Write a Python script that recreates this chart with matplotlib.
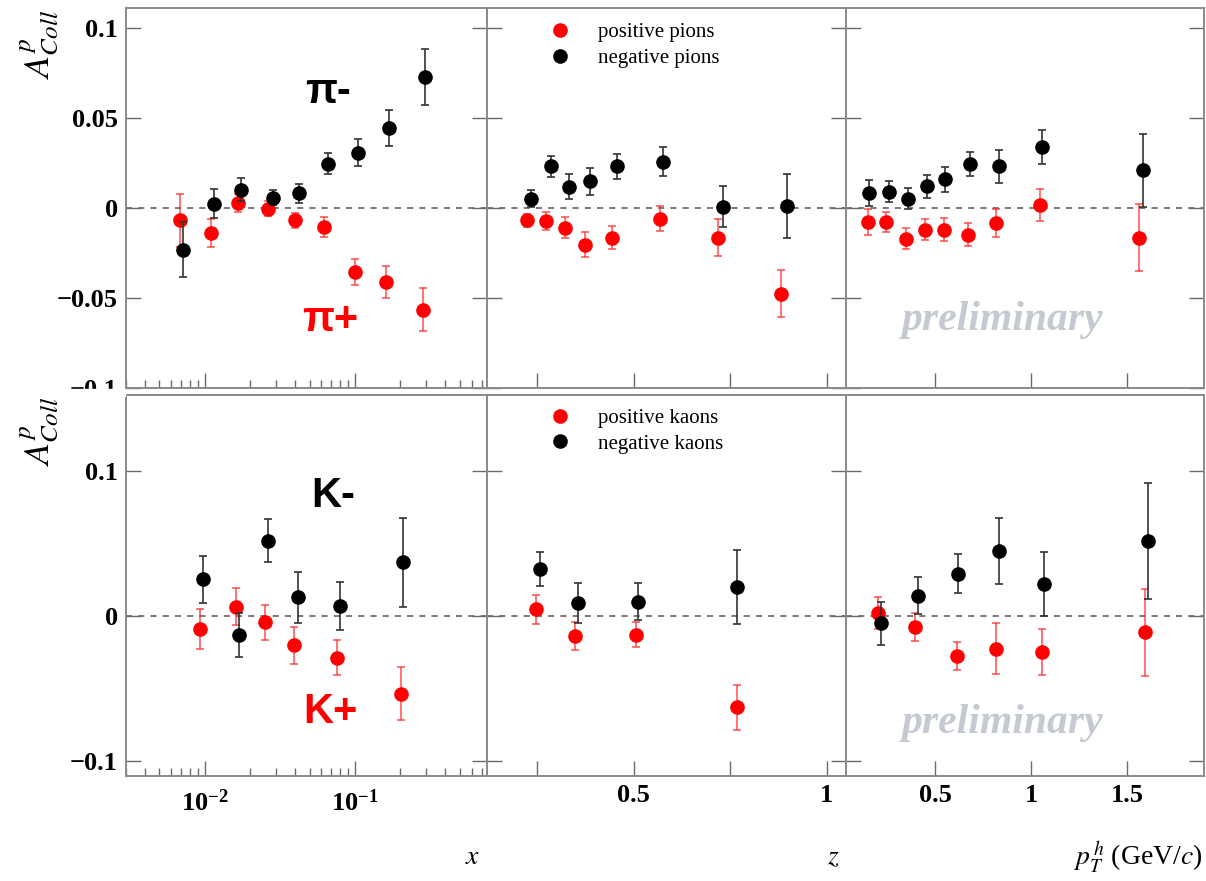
import numpy as np
import matplotlib
matplotlib.use("Agg")
import matplotlib.pyplot as plt
from matplotlib.ticker import FixedLocator, FixedFormatter, LogLocator, NullFormatter, LogFormatterSciNotation
from matplotlib.lines import Line2D
from matplotlib.patches import Rectangle

plt.rcParams["font.family"] = ["Liberation Serif", "DejaVu Serif"]
plt.rcParams["mathtext.fontset"] = "stix"

# ---- pions vs x ----
pip_x = [0.00683, 0.01107, 0.0168, 0.0266, 0.040, 0.0625, 0.100, 0.162, 0.286]
pip_x_val = [-0.0069, -0.0139, 0.0028, -0.0004, -0.0069, -0.0106, -0.0356, -0.0411, -0.0565]
pip_x_err = [0.0148, 0.0079, 0.005, 0.004, 0.004, 0.0055, 0.007, 0.0089, 0.0119]
pim_x = [0.00718, 0.01165, 0.0175, 0.0284, 0.0428, 0.0669, 0.105, 0.170, 0.296]
pim_x_val = [-0.0231, 0.0024, 0.0102, 0.0057, 0.008, 0.0246, 0.0307, 0.0446, 0.0728]
pim_x_err = [0.0155, 0.008, 0.0065, 0.004, 0.0054, 0.0057, 0.0074, 0.010, 0.0157]

# ---- pions vs z ----
pip_z = [0.224, 0.273, 0.322, 0.374, 0.445, 0.567, 0.719, 0.882]
pip_z_val = [-0.0069, -0.0074, -0.0109, -0.0204, -0.0165, -0.0059, -0.0165, -0.0476]
pip_z_err = [0.0037, 0.005, 0.006, 0.0068, 0.0062, 0.0067, 0.0102, 0.0129]
pim_z = [0.234, 0.285, 0.332, 0.386, 0.457, 0.577, 0.732, 0.897]
pim_z_val = [0.0052, 0.0231, 0.0117, 0.0148, 0.0231, 0.0256, 0.0006, 0.0011]
pim_z_err = [0.0047, 0.0058, 0.007, 0.0075, 0.007, 0.008, 0.0114, 0.0178]

# ---- pions vs pT ----
pip_pt = [0.149, 0.244, 0.349, 0.444, 0.545, 0.670, 0.815, 1.044, 1.563]
pip_pt_val = [-0.0078, -0.0078, -0.017, -0.012, -0.012, -0.0148, -0.0083, 0.0015, -0.0165]
pip_pt_err = [0.007, 0.0057, 0.0057, 0.006, 0.0064, 0.0063, 0.0079, 0.009, 0.0185]
pim_pt = [0.154, 0.257, 0.357, 0.457, 0.552, 0.679, 0.830, 1.056, 1.580]
pim_pt_val = [0.0083, 0.0089, 0.0052, 0.012, 0.0159, 0.0243, 0.0231, 0.0339, 0.0209]
pim_pt_err = [0.0074, 0.0058, 0.0056, 0.0063, 0.0068, 0.0068, 0.009, 0.0096, 0.0204]

# ---- kaons vs x ----
kp_x = [0.00936, 0.0161, 0.0253, 0.0394, 0.076, 0.204]
kp_x_val = [-0.009, 0.0065, -0.0044, -0.020, -0.0286, -0.0535]
kp_x_err = [0.0138, 0.0127, 0.0119, 0.0127, 0.0119, 0.0182]
km_x = [0.00975, 0.0170, 0.0266, 0.0416, 0.0803, 0.211]
km_x_val = [0.0253, -0.0131, 0.0518, 0.0129, 0.0069, 0.0371]
km_x_err = [0.016, 0.015, 0.0149, 0.0175, 0.0167, 0.0306]

# ---- kaons vs z ----
kp_z = [0.247, 0.349, 0.505, 0.767]
kp_z_val = [0.0048, -0.0138, -0.0127, -0.0627]
kp_z_err = [0.010, 0.0098, 0.0084, 0.0156]
km_z = [0.258, 0.357, 0.510, 0.767]
km_z_val = [0.0323, 0.0088, 0.0099, 0.0198]
km_z_err = [0.0119, 0.0138, 0.0129, 0.0256]

# ---- kaons vs pT ----
kp_pt = [0.202, 0.396, 0.613, 0.815, 1.055, 1.592]
kp_pt_val = [0.0018, -0.0074, -0.0274, -0.0224, -0.0247, -0.0113]
kp_pt_err = [0.011, 0.0098, 0.0098, 0.0175, 0.016, 0.0298]
km_pt = [0.218, 0.410, 0.621, 0.833, 1.067, 1.609]
km_pt_val = [-0.0051, 0.0141, 0.029, 0.0445, 0.0221, 0.0514]
km_pt_err = [0.015, 0.0127, 0.0135, 0.0228, 0.0222, 0.040]

top_yticks = [-0.1, -0.05, 0, 0.05, 0.1]
top_ylabels = ["\u22120.1", "\u22120.05", "0", "0.05", "0.1"]
bot_yticks = [-0.1, 0, 0.1]
bot_ylabels = ["\u22120.1", "0", "0.1"]
z_ticks = [0.5, 1.0]
z_labels = ["0.5", "1"]
z_minor = [0.25, 0.75]
pt_ticks = [0.5, 1.0, 1.5]
pt_labels = ["0.5", "1", "1.5"]

W, H = 1206, 881
fig = plt.figure(figsize=(W / 100, H / 100), dpi=100)

cols = [(126, 487), (487, 846), (846, 1204)]
rows = [(8, 388), (395, 776)]
axes = []
for r0, r1 in rows:
    line = []
    for c0, c1 in cols:
        ax = fig.add_axes([c0 / W, 1 - r1 / H, (c1 - c0) / W, (r1 - r0) / H])
        line.append(ax)
    axes.append(line)

frame_col = "#8a8a8a"
tick_col = "#6a6a6a"


def style(ax):
    for s in ax.spines.values():
        s.set_color(frame_col)
        s.set_linewidth(1.4)
    ax.tick_params(which="both", direction="in", right=True, top=False,
                   color=tick_col, width=1.0, labelsize=19, pad=6)
    ax.tick_params(which="major", length=11)
    ax.tick_params(which="minor", length=6)
    for t in ax.get_xticklabels() + ax.get_yticklabels():
        t.set_fontweight("bold")


def draw(ax, xp, yp, ep, xn, yn, en):
    ax.axhline(0, color="#555555", lw=1.1, ls=(0, (4, 4)), zorder=1)
    ax.errorbar(xp, yp, yerr=ep, fmt="o", color="red", ms=9.5, mec="red",
                ecolor=(1, 0.15, 0.15, 0.75), elinewidth=1.2, capsize=3,
                capthick=1.2, zorder=3)
    ax.errorbar(xn, yn, yerr=en, fmt="o", color="black", ms=9.5, mec="black",
                ecolor="#333333", elinewidth=1.2, capsize=3, capthick=1.2,
                zorder=4)


panels = [
    [(pip_x, pip_x_val, pip_x_err, pim_x, pim_x_val, pim_x_err),
     (pip_z, pip_z_val, pip_z_err, pim_z, pim_z_val, pim_z_err),
     (pip_pt, pip_pt_val, pip_pt_err, pim_pt, pim_pt_val, pim_pt_err)],
    [(kp_x, kp_x_val, kp_x_err, km_x, km_x_val, km_x_err),
     (kp_z, kp_z_val, kp_z_err, km_z, km_z_val, km_z_err),
     (kp_pt, kp_pt_val, kp_pt_err, km_pt, km_pt_val, km_pt_err)],
]

ylims = [(-0.1, 0.111), (-0.11, 0.152)]
yt = [(top_yticks, top_ylabels), (bot_yticks, bot_ylabels)]

for i in range(2):
    for j in range(3):
        ax = axes[i][j]
        draw(ax, *panels[i][j])
        ax.set_ylim(*ylims[i])
        ax.yaxis.set_major_locator(FixedLocator(yt[i][0]))
        if j == 0:
            ax.yaxis.set_major_formatter(FixedFormatter(yt[i][1]))
        if j == 0:
            ax.set_xscale("log")
            ax.set_xlim(0.003, 0.76)
            ax.xaxis.set_major_locator(LogLocator(base=10, numticks=10))
            ax.xaxis.set_minor_locator(LogLocator(base=10, subs=np.arange(2, 10), numticks=20))
            ax.xaxis.set_minor_formatter(NullFormatter())
            ax.xaxis.set_major_formatter(LogFormatterSciNotation())
        elif j == 1:
            ax.set_xlim(0.12, 1.05)
            ax.xaxis.set_major_locator(FixedLocator(z_ticks))
            ax.xaxis.set_major_formatter(FixedFormatter(z_labels))
            ax.xaxis.set_minor_locator(FixedLocator(z_minor))
        else:
            ax.set_xlim(0.035, 1.9)
            ax.xaxis.set_major_locator(FixedLocator(pt_ticks))
            ax.xaxis.set_major_formatter(FixedFormatter(pt_labels))
        style(ax)
        if j == 0:
            ax.tick_params(axis="x", pad=10)
        if j == 1:
            ax.tick_params(axis="x", which="minor", length=11)
        if j > 0:
            ax.tick_params(labelleft=False)
        if i == 0:
            ax.tick_params(axis="x", labelbottom=False)

# the lower pad hides the lower half of the top row's last label
fig.add_artist(Rectangle((30 / W, 1 - 396 / H), 95 / W, 7.5 / H,
                         transform=fig.transFigure, color="white", zorder=10))

# y titles
for ty in (9, 396):
    fig.text(40 / W, 1 - ty / H, r"$A^{p}_{Coll}$", rotation=90, ha="center",
             va="top", fontsize=26)

# x titles
fig.text(473 / W, 1 - 858 / H, r"$x$", ha="center", va="center", fontsize=20)
fig.text(833 / W, 1 - 858 / H, r"$z$", ha="center", va="center", fontsize=20)
fig.text(1203 / W, 1 - 858 / H, r"$p^{\,h}_{T}$ (GeV/$c$)", ha="right",
         va="center", fontsize=20)

# particle labels
lab = dict(ha="center", va="center", fontsize=30, fontweight="bold",
           family=["Liberation Sans", "DejaVu Sans"])
axes[0][0].text(0.56, 0.779, "\u03c0-", color="black", transform=axes[0][0].transAxes, **lab)
axes[0][0].text(0.565, 0.179, "\u03c0+", color="red", transform=axes[0][0].transAxes, **lab)
axes[1][0].text(0.573, 0.734, "K-", color="black", transform=axes[1][0].transAxes, **lab)
axes[1][0].text(0.565, 0.168, "K+", color="red", transform=axes[1][0].transAxes, **lab)

# preliminary
for ax, yy in ((axes[0][2], 0.179), (axes[1][2], 0.139)):
    ax.text(0.437, yy, "preliminary", transform=ax.transAxes, ha="center",
            va="center", fontsize=30, fontstyle="italic", fontweight="bold",
            color="#c4c9d2")

# legends
for ax, names, yy in ((axes[0][1], ["positive pions", "negative pions"], 0.962),
                      (axes[1][1], ["positive kaons", "negative kaons"], 0.965)):
    handles = [Line2D([], [], ls="none", marker="o", ms=9.5, color="red"),
               Line2D([], [], ls="none", marker="o", ms=9.5, color="black")]
    ax.legend(handles, names, loc="upper left", bbox_to_anchor=(0.175, yy),
              frameon=False, fontsize=15, handlelength=1.0, handletextpad=1.3,
              borderpad=0, borderaxespad=0, labelspacing=0.3)

fig.savefig("out.png", dpi=100)
